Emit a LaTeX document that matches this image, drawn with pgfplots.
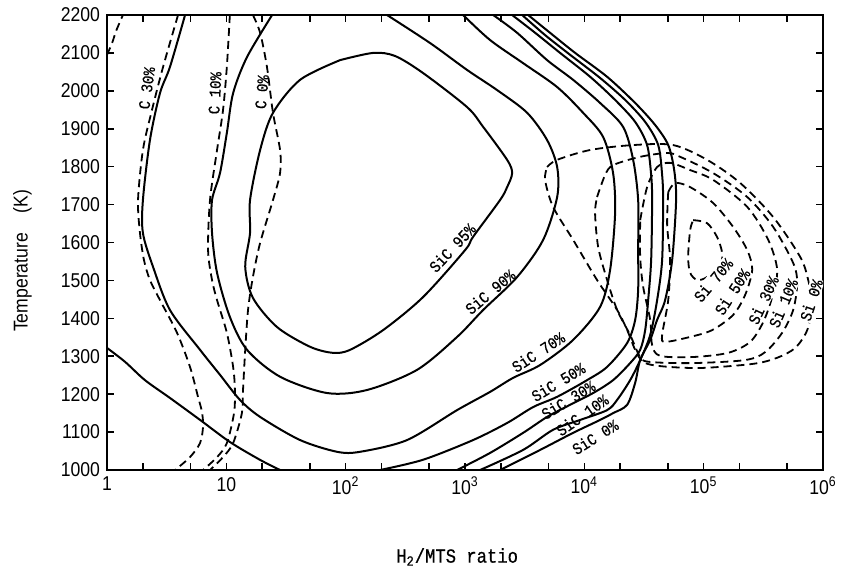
\documentclass[border=0pt]{standalone}
\usepackage{fontspec}
\setmainfont{Liberation Sans}[FakeStretch=0.88]
\newfontfamily\monofont{Liberation Mono}[FakeStretch=0.86, FakeBold=0.6]
\usepackage{pgfplots}
\pgfplotsset{compat=1.18}

\begin{document}
\begin{tikzpicture}[
  sic/.style={line width=1pt},
  dep/.style={line width=0.9pt, dash pattern=on 4pt off 2.5pt},
  lab/.style={font=\monofont\fontsize{8.2}{9}\selectfont, inner sep=0.5pt},
]
\begin{axis}[
  name=main,
  scale only axis, width=358pt, height=227.5pt,
  xmode=log, xmin=1, xmax=1e6, ymin=1000, ymax=2200,
  xtick={1,10,100,1000,10000,100000,1000000},
  xticklabels={1,10,10\textsuperscript{2},10\textsuperscript{3},10\textsuperscript{4},10\textsuperscript{5},10\textsuperscript{6}},
  minor xtick={2,5,20,50,200,500,2000,5000,20000,50000,200000,500000},
  ytick={1000,1100,...,2200},
  tick align=inside, major tick length=3.5pt, minor tick length=3.5pt,
  tick style={line width=0.8pt, black},
  axis line style={line width=1pt},
  tick label style={font=\fontsize{10}{12}\selectfont},
  /pgf/number format/assume math mode=true,
  /pgf/number format/1000 sep={},
  xlabel={H\textsubscript{2}/MTS ratio},
  ylabel={Temperature\quad (K)},
  xlabel style={at={(axis description cs:0.489,-0.191)}, anchor=center, font=\monofont\fontsize{10}{11}\selectfont},
  ylabel style={at={(axis description cs:-0.118,0.46)}, anchor=center, font=\fontsize{10}{12}\selectfont},
  every axis plot/.append style={black, line join=round, smooth},
]

% SiC deposition contours (solid)
\addplot[sic] coordinates {(89.8,2081) (170,2100) (259,2092) (445,2047) (1042,1957) (1419,1905) (2254,1818) (2483,1783) (2254,1746) (1968,1712) (1169,1615) (1002,1580) (445,1456) (206,1369) (109,1317) (78.4,1309) (50.3,1325) (26.6,1377) (16.7,1454) (14.4,1536) (15.8,1625) (15.8,1712) (19.2,1844) (24.6,1942) (41.5,2029) (89.8,2081)};
\addplot[sic] coordinates {(24.2,2200) (14.9,2089) (11.4,1994) (10.1,1889) (8.85,1783) (7.59,1712) (7.59,1625) (8.36,1520) (10.7,1404) (14.9,1317) (28.2,1246) (69.8,1203) (151,1211) (396,1264) (859,1351) (1419,1422) (2735,1509) (4520,1607) (5920,1720) (5920,1799) (4880,1870) (3320,1942) (1858,2002) (1042,2055) (510,2126) (222,2200)};
\addplot[sic] coordinates {(4.51,2200) (3.37,2063) (2.78,1994) (2.29,1870) (2.00,1712) (2.00,1625) (2.43,1536) (3.37,1422) (6.02,1317) (8.85,1251) (13.0,1185) (19.2,1140) (41.5,1079) (84.7,1048) (132,1048) (327,1079) (859,1158) (1622,1206) (2530,1243) (4266,1277) (8054,1343) (13550,1430) (16450,1528) (18110,1678) (17420,1783) (14390,1878) (9772,1942) (5916,2010) (3070,2073) (1622,2134) (964,2200)};
\addplot[sic] coordinates {(194,1000) (445,1027) (1169,1079) (2254,1124) (3724,1166) (5916,1193) (10540,1237) (15530,1272) (22850,1335) (26670,1396) (28250,1475) (28250,1580) (28250,1712) (25650,1818) (21130,1905) (13550,1968) (8054,2029) (4876,2081) (2735,2153) (1722,2200)};
\addplot[sic] coordinates {(859,1000) (1622,1045) (3070,1098) (4876,1140) (7603,1172) (11850,1203) (17420,1237) (24210,1282) (29380,1317) (32360,1369) (34270,1448) (36310,1554) (36980,1712) (36310,1778) (33570,1857) (26670,1918) (18110,1976) (11190,2037) (6266,2100) (3873,2153) (2483,2200)};
\addplot[sic] coordinates {(1339,1000) (3070,1053) (5470,1106) (9226,1132) (15530,1158) (18840,1185) (24210,1237) (29380,1290) (35640,1356) (40740,1448) (44870,1554) (45710,1712) (44870,1778) (41590,1857) (32360,1918) (21980,1976) (13550,2034) (7603,2095) (4690,2147) (3013,2200)};
\addplot[sic] coordinates {(1968,1000) (4266,1053) (8054,1098) (13550,1132) (17420,1150) (22850,1172) (26670,1230) (29380,1290) (35640,1343) (40740,1396) (47530,1448) (54450,1554) (58750,1712) (56620,1791) (50470,1857) (39180,1910) (26670,1968) (15530,2037) (8375,2100) (5164,2153) (3381,2200)};
\addplot[sic] coordinates {(1,1322) (1.42,1285) (2.08,1237) (3.37,1190) (6.03,1132) (10.7,1074) (19.1,1027) (28.2,1000)};

% C deposition contours (dashed)
\addplot[dep] coordinates {(3.94,2200) (2.95,2063) (2.38,1949) (2.00,1844) (1.82,1712) (1.89,1625) (2.04,1554) (2.29,1501) (2.78,1448) (3.86,1362) (4.96,1272) (5.79,1193) (6.25,1153) (6.38,1114) (6.02,1071) (4.96,1034) (3.72,1000)};
\addplot[dep] coordinates {(10.7,2200) (10.1,2063) (9.38,1949) (8.36,1844) (7.30,1712) (7.03,1580) (7.59,1501) (8.36,1448) (10.1,1362) (11.4,1272) (11.8,1211) (11.6,1150) (10.1,1071) (8.36,1034) (6.38,1000)};
\addplot[dep] coordinates {(16.7,2200) (19.2,2153) (21.9,2063) (24.6,1942) (28.2,1844) (28.2,1783) (24.6,1712) (19.2,1599) (16.7,1509) (15.2,1422) (14.4,1317) (13.8,1211) (13.5,1150) (11.4,1071) (9.38,1034) (7.30,1000)};
\addplot[dep] coordinates {(1,2095) (1.1,2125) (1.2,2160) (1.36,2200)};

% Si deposition contours (dashed, closed)
\addplot[dep] coordinates {(4876,1799) (5916,1818) (11190,1844) (25650,1857) (55470,1857) (106900,1818) (202300,1757) (382700,1667) (644000,1562) (751600,1501) (811700,1435) (737800,1369) (584800,1322) (413000,1296) (260000,1280) (93500,1269) (43150,1274) (31120,1285) (26670,1317) (22850,1369) (18840,1422) (12790,1501) (8054,1607) (5470,1694) (4690,1765) (4876,1799)};
\addplot[dep] coordinates {(12790,1720) (14930,1778) (17420,1804) (29380,1826) (49430,1836) (63530,1826) (120200,1783) (231700,1720) (382700,1641) (562400,1546) (608100,1493) (562400,1422) (455000,1362) (328000,1311) (222800,1290) (81660,1282) (35640,1285) (29380,1298) (24210,1356) (18840,1422) (15530,1501) (13060,1588) (12300,1678) (12790,1720)};
\addplot[dep] coordinates {(29380,1659) (33570,1746) (40740,1799) (52360,1810) (77090,1791) (120200,1765) (231700,1694) (347500,1607) (413000,1528) (375000,1456) (315500,1390) (245500,1338) (160400,1309) (81660,1298) (43150,1301) (36980,1330) (35640,1396) (31120,1483) (29380,1562) (29380,1659)};
\addplot[dep] coordinates {(50470,1733) (57680,1757) (77090,1746) (120200,1704) (176600,1641) (231700,1580) (255200,1528) (222800,1462) (176600,1409) (117800,1369) (77090,1351) (47530,1338) (44870,1356) (50470,1448) (52360,1554) (49430,1646) (50470,1733)};
\addplot[dep] coordinates {(81660,1659) (106900,1651) (129800,1614) (142900,1572) (137400,1541) (106900,1509) (88300,1501) (77090,1520) (74130,1562) (77090,1633) (81660,1659)};

% contour labels
\node[lab, rotate=82] at (axis cs:2.16,2007) {C 30\%};
\node[lab, rotate=87] at (axis cs:8.04,1994) {C 10\%};
\node[lab, rotate=85] at (axis cs:19.9,1997) {C 0\%};
\node[lab, rotate=47] at (axis cs:780,1586) {SiC 95\%};
\node[lab, rotate=40] at (axis cs:1622,1470) {SiC 90\%};
\node[lab, rotate=33] at (axis cs:4100,1311) {SiC 70\%};
\node[lab, rotate=31] at (axis cs:6030,1232) {SiC 50\%};
\node[lab, rotate=31] at (axis cs:7310,1185) {SiC 30\%};
\node[lab, rotate=35] at (axis cs:9590,1145) {SiC 10\%};
\node[lab, rotate=32] at (axis cs:12300,1087) {SiC 0\%};
\node[lab, rotate=50, fill=white] at (axis cs:120200,1501) {Si 70\%};
\node[lab, rotate=57, fill=white] at (axis cs:173400,1470) {Si 50\%};
\node[lab, rotate=65, fill=white] at (axis cs:315500,1448) {Si 30\%};
\node[lab, rotate=67, fill=white] at (axis cs:463500,1440) {Si 10\%};
\node[lab, rotate=72, fill=white] at (axis cs:796000,1448) {Si 0\%};
\end{axis}
\pgfresetboundingbox
\path ([xshift=-53.5pt,yshift=-49.5pt]main.south west) rectangle ([xshift=9.5pt,yshift=7.5pt]main.north east);
\end{tikzpicture}
\end{document}
